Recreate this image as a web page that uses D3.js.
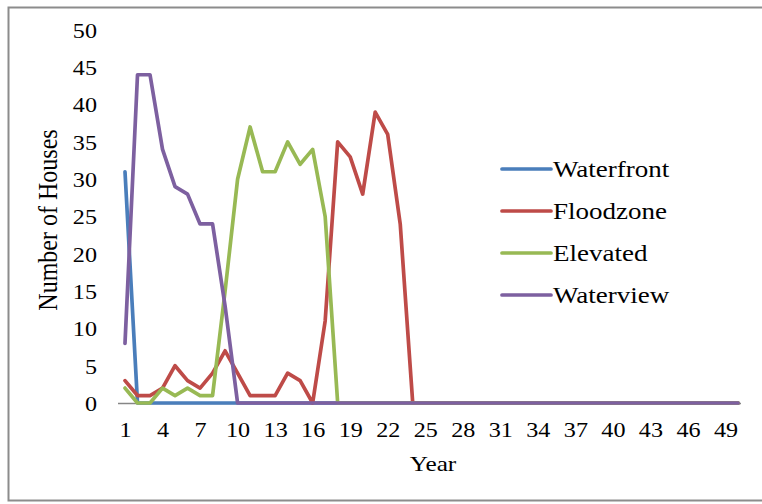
<!DOCTYPE html>
<html>
<head>
<meta charset="utf-8">
<script src="https://cdn.jsdelivr.net/npm/d3@7"></script>
<style>
  body { margin: 0; background: #fff; }
  text { font-family: "Liberation Serif", "Times New Roman", serif; fill: #000; }
</style>
</head>
<body>
<svg id="chart" width="762" height="504"></svg>
<script>
// years 1..50, values
var years = d3.range(1, 51)
var waterfront = [31].concat(d3.range(49).map(_ => 0))
var floodzone = [3, 1, 1, 2, 5, 3, 2, 4, 7, 4, 1, 1, 1, 4, 3, 0, 11, 35, 33, 28, 39, 36, 24, 0]
var elevated = [2, 0, 0, 2, 1, 2, 1, 1, 15, 30, 37, 31, 31, 35, 32, 34, 25, 0]
var waterview = [8, 44, 44, 34, 29, 28, 24, 24, 13, 0]
var seriesNames = ["Waterfront", "Floodzone", "Elevated", "Waterview"]
var seriesColors = ["#4a7ebb", "#be4b48", "#98b954", "#7d60a0"]
var yTicks = [0, 5, 10, 15, 20, 25, 30, 35, 40, 45, 50]
var xTicks = d3.range(1, 51, 3)

// the original picture is a bit stretched sideways
var stretch = "scale(1.15,1)"

// pad the shorter series with zeros up to year 50
function pad(arr) {
    return years.map((y, i) => i < arr.length ? arr[i] : 0)
}
var allSeries = [waterfront, floodzone, elevated, waterview].map(pad)

const svg = d3.select("#chart")

// outer frame
svg.append("rect")
    .attr("x", 8.5).attr("y", 7.5)
    .attr("width", 760).attr("height", 493)
    .style("fill", "none")
    .style("stroke", "#8c8c8c")
    .style("stroke-width", 2)

let x = d3.scaleLinear().domain([1, 50]).range([125, 738])
let y = d3.scaleLinear().domain([0, 50]).range([403, 30])

// y axis labels
let yAxis = d3.axisLeft(y).tickValues(yTicks).tickSize(0).tickPadding(0)
let gy = svg.append("g").attr("transform", "translate(97,0)").call(yAxis)
gy.select(".domain").remove()
gy.selectAll("text")
    .style("font-size", "21px")
    .style("font-family", "Liberation Serif")
    .attr("dy", "0.35em")
    .attr("transform", stretch)

// x axis
let xAxis = d3.axisBottom(x).tickValues(xTicks).tickSize(0).tickPadding(19)
let gx = svg.append("g").attr("transform", "translate(0,403)").call(xAxis)
gx.select(".domain").remove()
gx.selectAll("text")
    .style("font-size", "21px")
    .style("font-family", "Liberation Serif")
    .attr("transform", stretch)

svg.append("line")
    .attr("x1", 118).attr("x2", 741)
    .attr("y1", 403.5).attr("y2", 403.5)
    .style("stroke", "#868686")
    .style("stroke-width", 1.5)

// axis titles
svg.append("text")
    .text("Year")
    .attr("transform", "translate(433,471) " + stretch)
    .attr("text-anchor", "middle")
    .style("font-size", "22px")

svg.append("text")
    .text("Number of Houses")
    .attr("transform", "translate(57,220) " + stretch + " rotate(-90)")
    .attr("text-anchor", "middle")
    .style("font-size", "24px")

// lines
let line = d3.line()
    .x((d, i) => x(years[i]))
    .y(d => y(d))

allSeries.forEach((s, k) => {
    svg.append("path")
        .datum(s)
        .attr("d", line)
        .style("fill", "none")
        .style("stroke", seriesColors[k])
        .style("stroke-width", 3.7)
        .style("stroke-linejoin", "round")
        .style("stroke-linecap", "round")
})

// legend
let legend = svg.append("g")
    .selectAll("g")
    .data(seriesNames)
    .enter().append("g")
    .attr("transform", (d, i) => `translate(502,${169 + i * 42})`)

legend.append("line")
    .attr("x1", 0).attr("x2", 49)
    .attr("y1", 0).attr("y2", 0)
    .style("stroke", (d, i) => seriesColors[i])
    .style("stroke-width", 3.7)
    .style("stroke-linecap", "round")

legend.append("text")
    .text(d => d)
    .attr("transform", "translate(51,0) " + stretch)
    .attr("dy", "0.35em")
    .style("font-size", "23.5px")
</script>
</body>
</html>
